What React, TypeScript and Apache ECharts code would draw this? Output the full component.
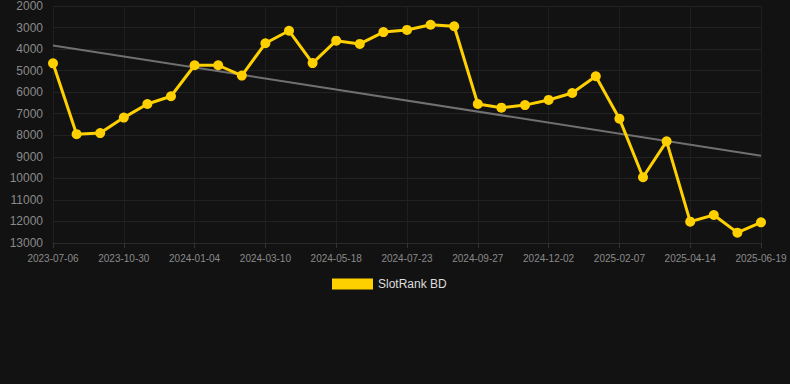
import React, { useEffect, useRef } from "react";
import * as echarts from "echarts";

const dates = [
  "2023-07-06", "2023-08-14", "2023-09-22", "2023-10-30", "2023-11-21", "2023-12-13",
  "2024-01-04", "2024-01-26", "2024-02-17", "2024-03-10", "2024-04-02", "2024-04-25",
  "2024-05-18", "2024-06-09", "2024-07-01", "2024-07-23", "2024-08-14", "2024-09-05",
  "2024-09-27", "2024-10-19", "2024-11-10", "2024-12-02", "2024-12-24", "2025-01-16",
  "2025-02-07", "2025-03-01", "2025-03-23", "2025-04-14", "2025-05-06", "2025-05-28",
  "2025-06-19",
];

const rankValues = [
  4660, 7950, 7900, 7180, 6550, 6190,
  4750, 4750, 5230, 3730, 3150, 4650,
  3610, 3760, 3210, 3110, 2870, 2940,
  6550, 6720, 6600, 6360, 6040, 5260,
  7230, 9950, 8280, 12010, 11700, 12520,
  12040,
];

const trendStart = 3830;
const trendEnd = 8950;

const seriesName = "SlotRank BD";

export default function App() {
  const ref = useRef<HTMLDivElement>(null);
  useEffect(() => {
    if (!ref.current) return;
    const chart = echarts.init(ref.current, null, { renderer: "svg" });
    chart.setOption({
      animation: false,
      backgroundColor: "#121212",
      grid: { left: 53, right: 29, top: 6, bottom: 141, containLabel: false },
      legend: {
        data: [seriesName],
        top: 278,
        left: 332,
        padding: 0,
        icon: "rect",
        itemWidth: 41,
        itemHeight: 11,
        textStyle: { color: "#dddddd", fontSize: 12, fontFamily: "Liberation Sans, Arial, sans-serif" },
      },
      xAxis: {
        type: "category",
        data: dates,
        boundaryGap: false,
        axisLine: { show: true, lineStyle: { color: "#2a2a2a" } },
        axisTick: { show: true, interval: 2, lineStyle: { color: "#333" } },
        axisLabel: {
          interval: 2,
          color: "#8a8a8a",
          fontSize: 10,
          fontFamily: "Liberation Sans, Arial, sans-serif",
          margin: 10,
        },
        splitLine: { show: true, interval: 2, lineStyle: { color: "#1f1f1f" } },
      },
      yAxis: {
        type: "value",
        inverse: true,
        min: 2000,
        max: 13000,
        interval: 1000,
        axisLine: { show: false },
        axisTick: { show: false },
        axisLabel: {
          color: "#8a8a8a",
          fontSize: 12,
          fontFamily: "Liberation Sans, Arial, sans-serif",
          margin: 10,
          formatter: (v: number) => String(v),
        },
        splitLine: { show: true, lineStyle: { color: "#222222" } },
      },
      series: [
        {
          name: seriesName,
          type: "line",
          data: rankValues,
          color: "#FFD000",
          lineStyle: { width: 3, color: "#FFD000" },
          itemStyle: { color: "#FFD000" },
          symbol: "circle",
          symbolSize: 10,
          showSymbol: true,
          z: 3,
        },
        {
          name: "trend",
          type: "line",
          data: [
            [dates[0], trendStart],
            [dates[dates.length - 1], trendEnd],
          ],
          symbol: "none",
          lineStyle: { width: 2, color: "#707070" },
          itemStyle: { color: "#707070" },
          z: 2,
        },
      ],
    });
    return () => chart.dispose();
  }, []);
  return (
    <div
      ref={ref}
      style={{ position: "fixed", left: 0, top: 0, width: 790, height: 384 }}
    />
  );
}
